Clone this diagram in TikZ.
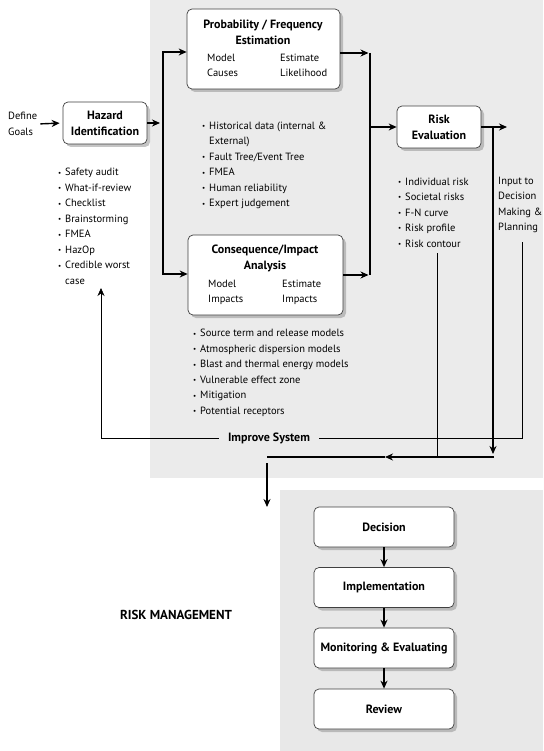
\documentclass[tikz,border=0pt]{standalone}
\usepackage{fontspec}
\setmainfont{PT Sans}
\usetikzlibrary{shadows,arrows.meta}

% marcador das listas e recuo das linhas seguintes
\newcommand{\marca}{\makebox[7pt][l]{\raisebox{0.8pt}{\scriptsize\textbullet}}}
\newcommand{\recuo}{\hspace*{7pt}}

\begin{document}
\begin{tikzpicture}[x=1pt, y=-1pt,
    >={Stealth[length=8pt, width=7pt]},
    caixa/.style={draw=black!75, line width=0.7pt, rounded corners=5pt, fill=white,
      drop shadow={shadow xshift=3pt, shadow yshift=-3pt, fill=black!45}},
    titulo/.style={font=\fontsize{12}{16}\selectfont\bfseries, align=center, inner sep=0pt},
    texto/.style={font=\fontsize{10.5}{15.5}\selectfont, align=left, inner sep=0pt, anchor=west},
    grossa/.style={line width=1.4pt},
    fina/.style={line width=0.7pt},
    seta/.style={grossa, ->}]

    % Fundo da página.
    \useasboundingbox (0,0) rectangle (543,751);
    \fill[white] (0,0) rectangle (543,751);
    \fill[black!8] (150,0) rectangle (543,478);
    \fill[black!9] (280,490) rectangle (543,751);

    % Identificação do perigo.
    \node[texto] (goals) at (8,124) {Define\\Goals};
    \node[caixa, titulo, minimum width=84, minimum height=42] (hazard) at (105,123) {Hazard\\Identification};
    \node[texto] (hazard-lista) at (58,226.5) {\marca Safety audit\\\marca What-if-review\\\marca Checklist\\\marca Brainstorming\\\marca FMEA\\\marca HazOp\\\marca Credible worst\\\recuo case};

    % Probabilidade / frequência.
    \node[caixa, minimum width=153, minimum height=80] (prob) at (263.5,49) {};
    \node[titulo] (prob-t) at (263,32) {Probability / Frequency\\Estimation};
    \node[texto] (prob-l) at (207,65.5) {Model\\Causes};
    \node[texto] (prob-r) at (280,65.5) {Estimate\\Likelihood};
    \node[texto] (prob-lista) at (202,165.5) {\marca Historical data (internal \&\\\recuo External)\\\marca Fault Tree/Event Tree\\\marca FMEA\\\marca Human reliability\\\marca Expert judgement};

    % Consequência / impacto.
    \node[caixa, minimum width=155, minimum height=80] (cons) at (265.5,275) {};
    \node[titulo] (cons-t) at (265,258) {Consequence/Impact\\Analysis};
    \node[texto] (cons-l) at (208,292.5) {Model\\Impacts};
    \node[texto] (cons-r) at (282,292.5) {Estimate\\Impacts};
    \node[texto] (cons-lista) at (193,373) {\marca Source term and release models\\\marca Atmospheric dispersion models\\\marca Blast and thermal energy models\\\marca Vulnerable effect zone\\\marca Mitigation\\\marca Potential receptors};

    % Avaliação do risco.
    \node[caixa, titulo, minimum width=84, minimum height=42] (risk) at (439,127) {Risk\\Evaluation};
    \node[texto] (risk-lista) at (398,212.5) {\marca Individual risk\\\marca Societal risks\\\marca F-N curve\\\marca Risk profile\\\marca Risk contour};
    \node[texto] (input) at (498,205) {Input to\\Decision\\Making \&\\Planning};

    % Gestão do risco.
    \node[titulo, font=\fontsize{13}{15}\selectfont\bfseries] (gestao) at (176,615) {RISK MANAGEMENT};
    \foreach \nome/\txt/\y in {dec/Decision/527, impl/Implementation/587.5,
        mon/Monitoring \& Evaluating/648, rev/Review/709} {
      \node[caixa, titulo, font=\fontsize{12}{14}\selectfont\bfseries,
        minimum width=140, minimum height=40] (\nome) at (384,\y) {\txt};
    }
    \foreach \a/\b in {dec/impl, impl/mon, mon/rev} {
      \draw[seta] (\a.south) -- (\b.north);
    }

    % Pontos de junção.
    \coordinate (jl-mid) at (160,123);
    \coordinate (jl-top) at (163,52);
    \coordinate (jl-bot) at (163,274);
    \coordinate (jr-top) at (370,53);
    \coordinate (jr-bot) at (370,275);
    \coordinate (jr-mid) at (370,127);
    \coordinate (saida) at (507,127);
    \coordinate (ret-top) at (493,127);
    \coordinate (ret-bot) at (493,454);
    \coordinate (base-dir) at (494,457);
    \coordinate (base-meio) at (385,457);
    \coordinate (base-esq) at (267,457);
    \coordinate (desce-top) at (267,463);
    \coordinate (desce-bot) at (267,507);
    \coordinate (contorno) at (437,253);
    \coordinate (entrada) at (522,242);
    \coordinate (canto) at (522,438);
    \coordinate (canto-esq) at (101,438);
    \coordinate (volta) at (101,288);
    \node[titulo, inner xsep=9pt] (improve) at (269,438) {Improve System};

    % Setas grossas do fluxo principal.
    \draw[seta, shorten <=3pt, shorten >=3pt] (goals.east) -- (hazard.west);
    \draw[seta] (hazard.east) -- (jl-mid);
    \draw[grossa, <->] (prob.west |- jl-top) -- (jl-top) -- (jl-bot) -- (cons.west |- jl-bot);
    \draw[seta, shorten >=1.5pt] (prob.east |- jr-top) -- (jr-top);
    \draw[seta, shorten >=1.5pt] (cons.east |- jr-bot) -- (jr-bot);
    \draw[grossa] (jr-top) -- (jr-bot);
    \draw[seta] (jr-mid) -- (risk.west);
    \draw[seta] (risk.east) -- (saida);
    \draw[seta] (ret-top) -- (ret-bot);
    \draw[seta] (base-dir) -- (base-meio);
    \draw[grossa] (base-meio) -- (base-esq);
    \draw[seta] (desce-top) -- (desce-bot);

    % Linhas finas de retorno.
    \draw[fina] (contorno) -- (contorno |- base-esq);
    \draw[fina] (entrada) -- (canto) -- (improve.east);
    \draw[fina, ->] (improve.west) -- (canto-esq) -- (volta);
  \end{tikzpicture}
\end{document}
